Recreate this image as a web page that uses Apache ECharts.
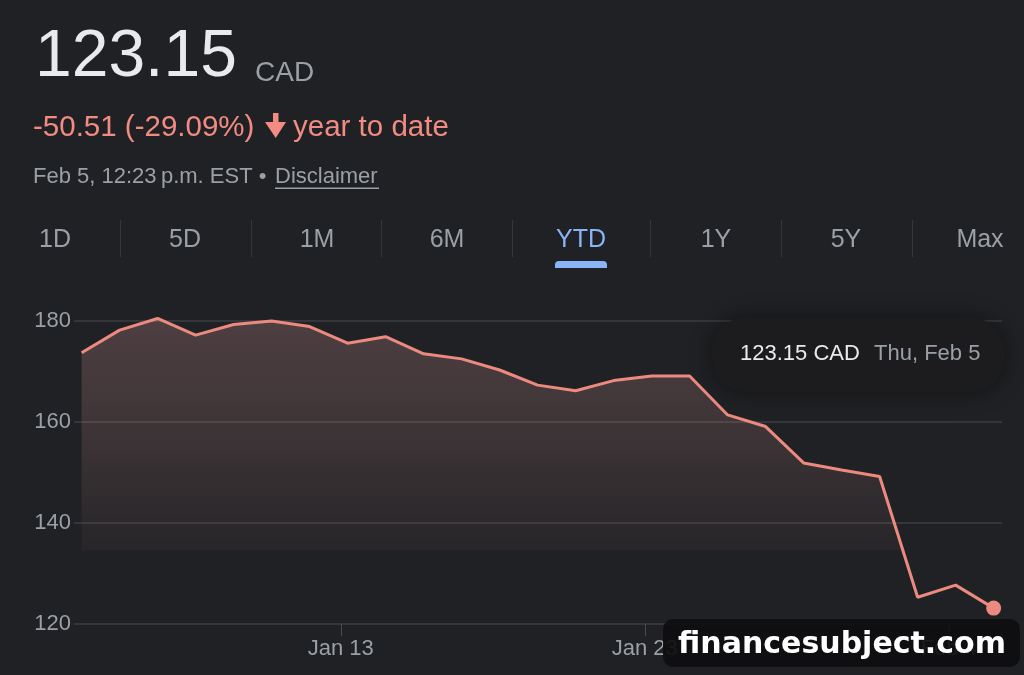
<!DOCTYPE html>
<html>
<head>
<meta charset="utf-8">
<script src="https://cdn.jsdelivr.net/npm/echarts@6/dist/echarts.min.js"></script>
<style>
html,body{margin:0;padding:0;background:#202124;}
#c{width:1024px;height:675px;}
</style>
</head>
<body>
<div id="c"></div>
<script>
// ---- data ----
const dates = ['Jan 2','Jan 5','Jan 6','Jan 7','Jan 8','Jan 9','Jan 12','Jan 13','Jan 14','Jan 15','Jan 16',
  'Jan 19','Jan 20','Jan 21','Jan 22','Jan 23','Jan 26','Jan 27','Jan 28','Jan 29','Jan 30',
  'Feb 2','Feb 3','Feb 4','Feb 5'];
const closes = [173.7,178.2,180.5,177.2,179.3,180.0,178.9,175.6,176.9,173.5,172.5,
  170.3,167.3,166.2,168.2,169.1,169.1,161.4,159.1,151.9,150.5,
  149.2,125.3,127.7,123.15];
const yTicks = [120,140,160,180];
const xTickDates = ['Jan 13','Jan 23','Feb 4'];
const tabs = ['1D','5D','1M','6M','YTD','1Y','5Y','Max'];
const priceText = '123.15';
const currency = 'CAD';
const changeText = '-50.51 (-29.09%)';
const periodText = 'year to date';
const stampText = 'Feb 5, 12:23\u2009p.m. EST \u2022';
const tipDay = 'Thu, Feb 5';

const FONT = '"Liberation Sans", Arial, Helvetica, sans-serif';
const RED = '#f28b82';
const LINE = '#ec8a7f';
const GRAY = '#9aa0a6';
const WHITE = '#e8eaed';
const BLUE = '#8ab4f8';

const seriesData = closes.map((v,i)=>[i,v]);
const last = seriesData[seriesData.length-1];
const tickPos = xTickDates.map(d => dates.indexOf(d) - 0.18);

const chart = echarts.init(document.getElementById('c'), null, {renderer:'canvas'});

const tabCenters = [55,185,317,447,581,716,846,980];
const sepX = [120,251,381,512,650,781,912];
const graphics = [];
graphics.push({type:'text', x:35, y:58, style:{text:priceText, font:'66px '+FONT, fill:WHITE, verticalAlign:'middle'}});
graphics.push({type:'text', x:255, y:73, style:{text:currency, font:'28px '+FONT, fill:GRAY, verticalAlign:'middle'}});
graphics.push({type:'text', x:33, y:128, style:{text:changeText, font:'29.5px '+FONT, fill:RED, verticalAlign:'middle'}});
// arrow
graphics.push({type:'rect', shape:{x:273, y:113, width:5.5, height:13}, style:{fill:RED}});
graphics.push({type:'polygon', shape:{points:[[265,122],[286,122],[275.7,138]]}, style:{fill:RED}});
graphics.push({type:'text', x:293, y:128, style:{text:periodText, font:'29.5px '+FONT, fill:RED, verticalAlign:'middle'}});
graphics.push({type:'text', x:33, y:177, style:{text:stampText, font:'22px '+FONT, fill:GRAY, verticalAlign:'middle'}});
graphics.push({type:'text', x:275, y:177, style:{text:'Disclaimer', font:'22px '+FONT, fill:GRAY, verticalAlign:'middle'}});
graphics.push({type:'rect', shape:{x:275, y:187.5, width:104, height:1.5}, style:{fill:GRAY}});
tabs.forEach((t,i)=>{
  graphics.push({type:'text', x:tabCenters[i], y:240, style:{text:t, font:'25px '+FONT, fill: t==='YTD'?BLUE:GRAY, align:'center', verticalAlign:'middle'}});
});
sepX.forEach(x=>{
  graphics.push({type:'rect', shape:{x:x, y:220, width:1, height:37}, style:{fill:'#34363b'}});
});
graphics.push({type:'rect', shape:{x:555, y:261, width:52, height:7, r:[4,4,0,0]}, style:{fill:BLUE}});
// tooltip box
graphics.push({type:'rect', z:50, shape:{x:712, y:318, width:292, height:74, r:32},
  style:{fill:'#1c1c1e', shadowBlur:22, shadowColor:'rgba(0,0,0,0.45)'}});
graphics.push({type:'text', z:51, x:740, y:354, style:{text:closes[closes.length-1].toFixed(2)+' '+currency, font:'22px '+FONT, fill:WHITE, verticalAlign:'middle'}});
graphics.push({type:'text', z:51, x:874, y:354, style:{text:tipDay, font:'22px '+FONT, fill:GRAY, verticalAlign:'middle'}});
// watermark
graphics.push({type:'rect', z:60, shape:{x:663, y:619, width:357, height:48, r:10}, style:{fill:'rgba(14,14,16,0.92)'}});
graphics.push({type:'text', z:61, x:842, y:645, style:{text:'financesubject.com', font:'bold 30px "DejaVu Sans", sans-serif', fill:'#ffffff', align:'center', verticalAlign:'middle', shadowBlur:3, shadowColor:'rgba(0,0,0,0.9)', shadowOffsetX:2, shadowOffsetY:2}});

chart.setOption({
  backgroundColor:'#202124',
  animation:false,
  textStyle:{fontFamily:FONT},
  grid:{left:74, right:22, top:321, bottom:51},
  xAxis:{
    type:'value', min:-0.2, max:24.22,
    axisLine:{show:false},
    splitLine:{show:false},
    axisTick:{show:true, customValues:tickPos, length:12, lineStyle:{color:'#4a4d52', width:1}},
    axisLabel:{customValues:tickPos, color:GRAY, fontSize:22, margin:14,
      formatter:function(v){ const i = tickPos.findIndex(p=>Math.abs(p-v)<0.01); return i>=0?xTickDates[i]:''; }}
  },
  yAxis:{
    type:'value', min:yTicks[0], max:yTicks[yTicks.length-1], interval:20,
    axisLine:{show:false}, axisTick:{show:false},
    axisLabel:{color:GRAY, fontSize:22, margin:3},
    splitLine:{lineStyle:{color:'#3c3e43', width:1.5}}
  },
  series:[
    {
      type:'line', data:seriesData, symbol:'none', clip:false, z:3,
      lineStyle:{color:LINE, width:3},
      areaStyle:{origin:'start', color:new echarts.graphic.LinearGradient(0,318,0,551,[
        {offset:0,color:'rgba(205,145,145,0.38)'},
        {offset:0.5,color:'rgba(205,145,145,0.24)'},
        {offset:0.81,color:'rgba(205,145,145,0.12)'},
        {offset:0.995,color:'rgba(205,145,145,0.06)'},
        {offset:1,color:'rgba(205,145,145,0)'}], true)},
      markLine:{silent:true, symbol:'none', label:{show:false}, z:1,
        lineStyle:{color:'#a0a4a8', type:[4,3], width:1.2},
        data:[[{coord:[last[0],180.6]},{coord:[last[0],120]}]]}
    },
    {
      type:'scatter', data:[last], symbol:'circle', symbolSize:15, clip:false, z:10,
      itemStyle:{color:LINE, opacity:1}
    }
  ],
  graphic:graphics
});
</script>
</body>
</html>
